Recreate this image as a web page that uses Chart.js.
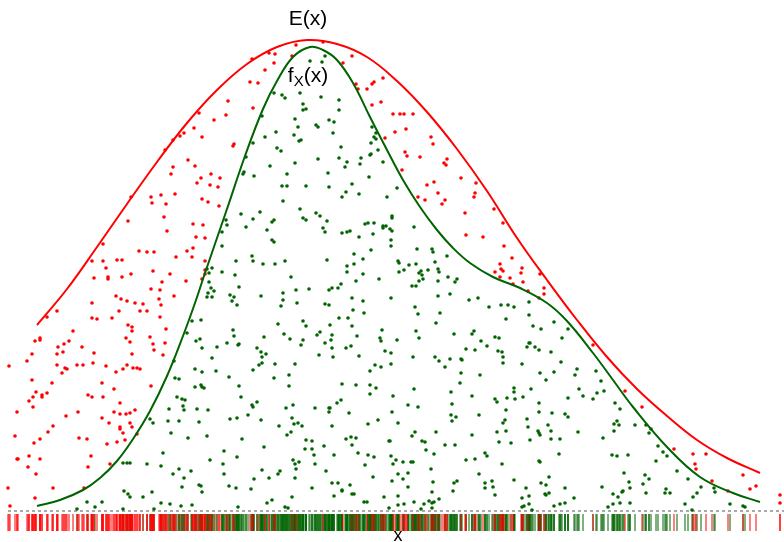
<!DOCTYPE html>
<html><head><meta charset="utf-8">
<script src="https://cdn.jsdelivr.net/npm/chart.js@4/dist/chart.umd.min.js"></script>
<style>html,body{margin:0;padding:0;background:#fff;overflow:hidden}canvas{display:block}</style>
</head><body>
<canvas id="c" width="784" height="542"></canvas>
<script>
// Envelope curve E(x)
const envelopeX = [37,67,97,127,157,187,217,247,277,307,337,367,397,427,457,487,517,547,577,607,637,667,697,727,760];
const envelopeY = [186,222,264,307,349,388,421,447,464,471,467,454,430,399,362,320,273,231,191,154,122,95,71,53,38];
// Target density f_X(x)
const densityX = [37,60,83,100,117,133,150,167,183,195,205,227,245,263,277,293,310,323,337,353,370,387,403,420,437,453,470,493,520,547,567,593,613,633,667,700,733,760];
const densityY = [5,11,21,33,50,72,100,135,175,208,238,302,355,402,430,454,464,461,451,428,394,361,331,304,281,263,248,234,223,208,190,158,131,104,64,34,18,9];
// Rejected samples (x, u)
const rejected = [[92,208],[119,200],[127,210],[135,208],[143,207],[161,206],[140,200],[147,200],[160,194],[92,193],[97,192],[112,193],[47,194],[57,200],[128,186],[132,184],[132,180],[166,182],[73,180],[40,173],[40,171],[35,170],[150,174],[126,173],[130,169],[153,167],[69,170],[64,167],[58,164],[82,164],[165,168],[154,161],[132,157],[163,156],[94,158],[63,159],[57,157],[32,157],[27,150],[57,146],[77,146],[83,146],[93,148],[106,145],[127,146],[133,143],[137,143],[140,142],[123,142],[116,139],[67,142],[65,143],[62,138],[9,145],[32,131],[52,128],[102,128],[151,125],[114,122],[36,119],[47,118],[42,116],[42,114],[33,114],[29,110],[88,116],[92,114],[103,114],[33,104],[120,108],[135,101],[114,99],[120,97],[126,97],[130,98],[78,99],[17,99],[66,95],[102,93],[109,88],[130,88],[132,84],[120,84],[120,82],[53,85],[48,79],[123,78],[137,77],[15,75],[79,73],[87,72],[40,72],[34,68],[117,69],[107,67],[125,71],[91,55],[29,55],[17,52],[18,52],[40,52],[28,44],[88,44],[110,47],[36,37],[53,23],[84,23],[8,23],[35,13],[10,5],
[197,328],[151,314],[161,316],[175,317],[152,308],[166,307],[131,314],[164,294],[128,290],[167,280],[193,287],[196,274],[103,267],[139,260],[147,259],[154,259],[187,260],[193,263],[176,254],[192,254],[92,250],[103,250],[117,251],[122,251],[106,243],[94,233],[108,234],[108,232],[122,234],[131,237],[153,240],[170,237],[186,230],[162,229],[151,222],[160,221],[174,215],[116,215],[121,212],[159,212],
[323,469],[296,466],[269,458],[275,457],[252,452],[274,448],[292,455],[265,441],[250,429],[258,428],[228,410],[253,403],[199,398],[226,396],[214,391],[194,383],[202,374],[184,378],[180,375],[173,371],[165,361],[234,367],[233,365],[188,351],[173,344],[195,345],[171,337],[211,337],[201,333],[220,333],[210,326],[218,324],[202,312],[208,309],[219,305],[203,286],[205,273],[205,250],[205,241],[205,237],[202,232],
[352,455],[343,448],[383,433],[356,427],[358,422],[367,422],[372,427],[374,429],[381,409],[372,406],[393,397],[400,397],[404,397],[413,397],[395,379],[406,382],[385,373],[431,374],[433,367],[405,359],[407,355],[420,354],[447,352],[444,348],[446,346],[402,341],[461,333],[476,328],[434,329],[427,326],[475,318],[474,314],[438,318],[445,311],[442,307],[418,314],[425,311],[494,302],[465,298],[503,288],[466,276],[483,274],[504,265],[512,253],[500,247],[501,242],[503,240],[495,239],[500,234],[510,233],
[522,243],[521,238],[523,229],[528,220],[544,223],[544,217],[539,213],[540,237],[513,227],[593,166],[625,120],
[642,104],[674,62],[693,57],[706,57],[695,47],[696,42],[712,30],[728,20],[743,36],[750,22],[756,25],[780,16],[780,8]];
// Accepted samples (x, u)
const accepted = [[77,2],[87,9],[95,4],[102,9],[124,20],[128,17],[130,14],[143,14],[152,19],[123,2],[154,2],[161,8],[170,7],[181,5],[192,6],[202,19],[238,4],[267,8],[272,11],[285,4],[288,3],[292,14],[334,15],[342,20],[352,17],[354,17],[364,9],[367,9],[384,14],[389,3],[398,15],[398,6],[404,7],[421,2],[424,7],[429,10],[432,8],[434,9],[432,19],[432,3],[439,12],[453,20],[495,16],[522,4],[524,5],[529,15],[529,7],[532,1],[546,16],[549,18],[554,5],[560,7],[565,8],[613,17],[618,14],[622,19],[613,7],[608,4],[620,8],[630,8],[646,18],[665,18],[670,18],[685,7],[693,14],[697,18],[692,1],[730,7],[743,5],[745,4],
[192,190],[187,178],[196,170],[174,150],[195,142],[175,133],[179,132],[195,124],[177,114],[182,112],[185,111],[183,105],[169,102],[184,101],[197,102],[168,90],[179,90],[153,88],[150,92],[171,78],[188,73],[163,58],[147,47],[161,45],[123,48],[127,48],[130,48],[179,42],[173,37],[184,33],[191,40],[199,26],[182,24],
[310,450],[274,418],[282,416],[285,413],[300,418],[321,414],[303,407],[303,401],[306,402],[262,395],[295,392],[298,384],[316,386],[318,384],[276,379],[294,376],[301,371],[299,370],[265,374],[253,368],[277,363],[281,360],[329,391],[318,352],[246,354],[270,345],[295,348],[244,339],[243,337],[254,335],[287,337],[328,338],[282,325],[287,325],[306,325],[329,324],[283,310],[241,297],[260,299],[300,302],[303,293],[306,291],[316,298],[320,295],[327,290],[226,291],[227,286],[253,292],[272,289],[274,291],[246,284],[267,281],[272,271],[274,269],[323,283],[325,279],[222,279],[222,265],[252,255],[253,250],[236,250],[263,247],[275,247],[285,250],[207,242],[209,238],[212,243],[222,239],[291,234],[327,251],
[325,455],[322,449],[339,411],[339,401],[334,389],[333,378],[372,384],[376,378],[374,374],[376,372],[371,368],[341,364],[378,361],[370,356],[371,357],[339,353],[361,353],[347,349],[345,344],[360,347],[383,349],[369,334],[352,327],[397,323],[346,319],[342,314],[359,317],[387,314],[392,295],[392,293],[365,287],[368,288],[374,288],[383,285],[386,285],[383,283],[390,282],[392,280],[414,284],[342,278],[347,279],[350,280],[359,274],[373,277],[391,271],[391,265],[371,261],[417,262],[432,262],[433,259],[447,255],[354,257],[363,252],[354,247],[347,245],[398,250],[399,248],[409,246],[416,247],[428,241],[435,249],[438,242],[439,239],[421,240],[419,238],[404,241],[399,239],[347,239],[363,237],[379,232],[422,236],[448,234],[423,232],
[235,236],[209,229],[211,223],[214,220],[208,218],[212,214],[207,214],[239,224],[230,216],[234,214],[232,210],[237,206],[261,215],[283,218],[283,211],[281,205],[296,221],[297,208],[309,222],[329,221],[332,223],[338,223],[341,227],[356,230],[352,213],[363,210],[325,207],[329,206],[353,201],[364,198],[201,191],[233,181],[234,175],[278,187],[303,190],[306,185],[330,186],[339,193],[348,193],[352,185],[382,181],[284,177],[290,172],[303,171],[317,176],[320,179],[332,176],[331,171],[325,168],[301,166],[264,174],[357,175],[380,173],[381,170],[200,172],[202,163],[217,164],[227,168],[238,166],[239,167],[257,163],[261,159],[266,157],[262,154],[262,148],[259,146],[253,141],[275,147],[295,147],[289,136],[274,133],[289,125],[319,156],[332,163],[346,163],[351,165],[333,154],[359,155],[385,160],[370,140],[375,146],[381,144],[212,153],[202,139],[216,140],[229,134],[201,126],[202,124],[204,123],[239,125],[241,114],[342,127],[356,126],[370,126],[376,123],[370,117],[208,101],[252,106],[253,104],[257,109],[248,96],[230,92],[237,93],[261,91],[199,89],[286,103],[293,106],[315,103],[329,103],[329,99],[330,103],[337,108],[341,111],[349,98],[292,93],[294,87],[298,88],[302,85],[279,85],[332,85],[368,87],[378,91],[291,79],[287,76],[207,75],[242,72],[306,71],[312,70],[305,62],[312,62],[314,56],[324,65],[346,72],[351,74],[356,73],[352,66],[358,58],[368,56],[374,54],[389,70],[334,56],[264,64],[224,60],[237,54],[210,51],[223,47],[224,37],[262,41],[280,40],[278,37],[293,51],[299,49],[295,47],[296,42],[315,47],[326,40],[365,46],[254,32],[269,33],[295,33],[373,34],[201,25],[229,25],[236,23],[251,22],[312,23],[332,28],[338,28],[342,21],[350,26],
[419,230],[438,230],[457,232],[455,229],[412,225],[416,225],[438,215],[450,217],[391,213],[469,211],[478,213],[415,204],[418,197],[440,198],[489,204],[501,206],[508,206],[514,204],[529,209],[506,192],[529,196],[533,185],[541,182],[554,189],[568,182],[562,173],[436,188],[416,180],[419,173],[397,171],[454,177],[474,180],[472,177],[481,170],[487,165],[495,174],[499,173],[466,162],[475,161],[498,160],[502,159],[503,154],[503,148],[527,164],[529,168],[530,168],[535,164],[539,161],[551,159],[561,149],[391,158],[391,147],[413,154],[435,154],[439,150],[450,152],[461,152],[462,151],[445,144],[522,147],[540,138],[554,139],[546,131],[575,136],[577,142],[480,136],[461,138],[460,128],[414,122],[451,119],[472,115],[495,112],[497,109],[507,113],[515,112],[514,119],[514,123],[523,114],[531,122],[579,122],[568,113],[393,115],[408,106],[418,104],[452,107],[451,96],[456,94],[452,90],[479,96],[506,101],[505,91],[503,88],[497,79],[506,80],[527,92],[528,84],[539,99],[539,108],[552,98],[565,97],[568,94],[548,86],[538,80],[539,78],[540,76],[551,80],[578,79],[392,99],[398,88],[415,79],[412,75],[436,79],[472,76],[390,70],[422,70],[425,69],[445,66],[455,66],[426,61],[434,57],[499,69],[511,68],[530,71],[551,72],[560,72],[559,57],[391,55],[396,51],[403,49],[393,47],[411,49],[413,49],[431,42],[466,51],[475,52],[485,58],[487,55],[502,47],[539,50],[540,49],[398,37],[408,38],[403,32],[392,30],[433,29],[457,30],[454,28],[479,37],[492,30],[485,28],[485,23],[493,24],[514,31],[526,23],[541,28],[546,26],[549,34],[565,23],[545,17],[408,24],[414,9],[522,13],[574,13],
[596,140],[601,130],[604,120],[597,118],[583,115],[593,112],
[603,73],[615,108],[620,102],[617,90],[614,87],[619,86],[614,80],[635,86],[646,86],[651,82],[649,78],[658,65],[663,59],[667,55],[656,50],[677,40],[612,56],[617,55],[628,56],[624,38],[645,36],[649,32],[643,27],[688,32],[629,29],[630,23],[602,24],[623,20],[666,22],[701,24],[714,23],[715,19]];
const baselineX = [8, 784];
const labelText = ['E(x)', 'f', 'X', '(x)', 'x'];
const labelAnchor = [[308, 486], [308, 429], [398, -30]];

const pts = (xs, ys) => xs.map((v, i) => ({x: v, y: ys[i]}));
const toXY = arr => arr.map(p => ({x: p[0], y: p[1]}));
const rug = arr => arr.map(p => ({x: p[0], y: -11.5}));
const FONT = "'Liberation Sans', Arial, sans-serif";

const labelPlugin = {
  id: 'curveLabels',
  afterDatasetsDraw(chart) {
    const {ctx, scales} = chart;
    const xs = scales.x, ys = scales.y;
    ctx.save();
    ctx.fillStyle = '#000';
    ctx.textBaseline = 'alphabetic';
    ctx.font = '21px ' + FONT;
    ctx.textAlign = 'center';
    ctx.fillText(labelText[0], xs.getPixelForValue(labelAnchor[0][0]), ys.getPixelForValue(labelAnchor[0][1]));
    ctx.textAlign = 'left';
    ctx.font = '21px ' + FONT; const w1 = ctx.measureText(labelText[1]).width;
    ctx.font = '15px ' + FONT; const w2 = ctx.measureText(labelText[2]).width;
    ctx.font = '21px ' + FONT; const w3 = ctx.measureText(labelText[3]).width;
    const cx = xs.getPixelForValue(labelAnchor[1][0]);
    const by = ys.getPixelForValue(labelAnchor[1][1]);
    let sx = cx - (w1 + w2 + w3) / 2;
    ctx.fillText(labelText[1], sx, by); sx += w1;
    ctx.font = '15px ' + FONT; ctx.fillText(labelText[2], sx, by + 4); sx += w2;
    ctx.font = '21px ' + FONT; ctx.fillText(labelText[3], sx, by);
    ctx.font = '18px ' + FONT;
    ctx.textAlign = 'center';
    ctx.fillText(labelText[4], xs.getPixelForValue(labelAnchor[2][0]), ys.getPixelForValue(labelAnchor[2][1]));
    ctx.restore();
  }
};

new Chart(document.getElementById('c'), {
  type: 'scatter',
  data: {
    datasets: [
      {type: 'line', data: pts(envelopeX, envelopeY), borderColor: '#ff0000', borderWidth: 2, pointRadius: 0, fill: false, tension: 0.4, order: 0},
      {type: 'line', data: pts(densityX, densityY), borderColor: '#006400', borderWidth: 2, pointRadius: 0, fill: false, tension: 0.4, order: 0},
      {data: toXY(rejected), pointRadius: 1.8, pointBorderWidth: 0, pointBackgroundColor: '#ff0000', pointBorderColor: '#ff0000', order: 1},
      {data: toXY(accepted), pointRadius: 1.8, pointBorderWidth: 0, pointBackgroundColor: '#006400', pointBorderColor: '#006400', order: 1},
      {type: 'line', data: baselineX.map(v => ({x: v, y: 0})), borderColor: '#555555', borderWidth: 1, borderDash: [3, 3], pointRadius: 0, fill: false, order: 2},
      {data: rug(rejected), pointStyle: 'line', pointRotation: 90, pointRadius: 8.5, pointBorderWidth: 1, pointBorderColor: '#ff0000', pointBackgroundColor: '#ff0000', order: 3},
      {data: rug(accepted), pointStyle: 'line', pointRotation: 90, pointRadius: 8.5, pointBorderWidth: 1, pointBorderColor: '#006400', pointBackgroundColor: '#006400', order: 4}
    ]
  },
  options: {
    responsive: false,
    animation: false,
    devicePixelRatio: 1,
    events: [],
    layout: {padding: 0, autoPadding: false},
    plugins: {legend: {display: false}, tooltip: {enabled: false}, title: {display: false}},
    scales: {
      x: {type: 'linear', min: 0, max: 784, display: false},
      y: {type: 'linear', min: -31, max: 511, display: false}
    }
  },
  plugins: [labelPlugin]
});
</script>
</body></html>
